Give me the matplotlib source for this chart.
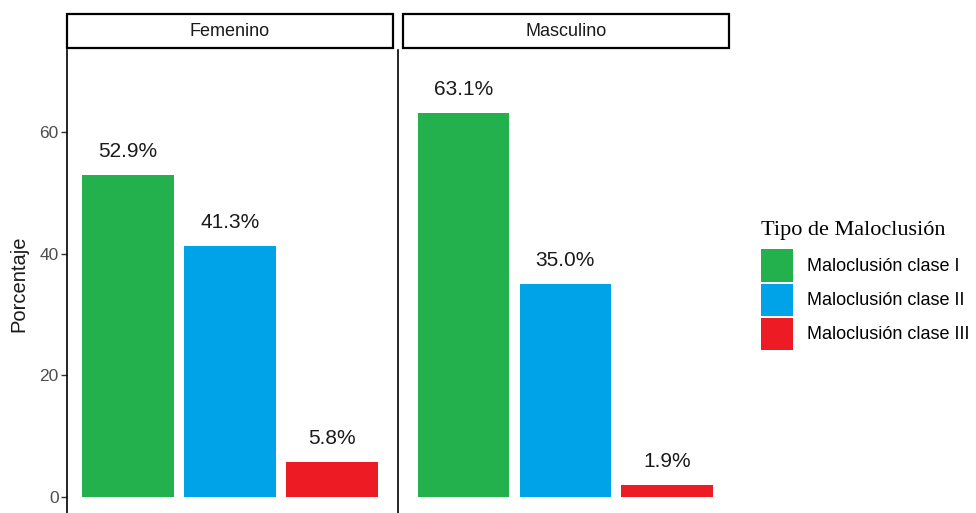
import matplotlib
matplotlib.use("Agg")
import matplotlib.pyplot as plt
from matplotlib.patches import Patch, Rectangle

# data
sexes = ["Femenino", "Masculino"]
classes = ["Maloclusión clase I", "Maloclusión clase II", "Maloclusión clase III"]
pct_femenino = [52.9, 41.3, 5.8]
pct_masculino = [63.1, 35.0, 1.9]
colors = ["#22B14C", "#00A2E8", "#ED1C24"]
y_ticks = [0, 20, 40, 60]

W, H = 976, 513
fig = plt.figure(figsize=(W / 100, H / 100), dpi=100)
plt.rcParams["font.family"] = ["Liberation Sans", "DejaVu Sans"]


def box(l, r, t, b):
    # pixel box -> figure fraction [left, bottom, width, height]
    return [l / W, (H - b) / H, (r - l) / W, (b - t) / H]


panels = [
    (box(67, 393, 50, 518.3), (0.4, 3.6), (67, 393), pct_femenino),
    (box(398, 729, 50, 518.3), (0.357, 3.605), (403, 729), pct_masculino),
]

axes = []
for i, (pos, xlim, strip_x, vals) in enumerate(panels):
    ax = fig.add_axes(pos)
    x = range(1, len(vals) + 1)
    ax.bar(x, vals, width=0.9, color=colors)
    for xi, v in zip(x, vals):
        ax.annotate(f"{v:.1f}%", (xi, v), xytext=(0, 17), textcoords="offset points",
                    ha="center", va="center", fontsize=15, color="#1a1a1a")
    ax.set_xlim(*xlim)
    ax.set_ylim(-3.5, 73.5)
    ax.set_xticks([])
    for s in ["top", "right"]:
        ax.spines[s].set_visible(False)
    for s in ["left", "bottom"]:
        ax.spines[s].set_linewidth(1.2)
        ax.spines[s].set_color("black")
    if i == 0:
        ax.set_yticks(y_ticks)
        ax.tick_params(axis="y", length=4, width=1, color="#333333",
                       labelsize=12.5, labelcolor="#4D4D4D", pad=2)
        ax.set_ylabel("Porcentaje", fontsize=14.5, color="#1a1a1a", labelpad=8)
    else:
        ax.set_yticks([])
    axes.append(ax)

    # facet strip
    l, r = strip_x
    rect = Rectangle((l / W, (H - 48) / H), (r - l) / W, 34 / H,
                     transform=fig.transFigure, facecolor="white",
                     edgecolor="black", linewidth=1.6)
    fig.add_artist(rect)
    fig.text((l + r) / 2 / W, (H - 32) / H, sexes[i], ha="center", va="center",
             fontsize=13, color="#1a1a1a")

handles = [Patch(facecolor=c, edgecolor="none") for c in colors]
leg = fig.legend(handles, classes, loc="upper left",
                 bbox_to_anchor=(756 / W, (H - 216) / H),
                 frameon=False, fontsize=13,
                 handlelength=1.75, handleheight=2.36,
                 handletextpad=0.75, labelspacing=0.11,
                 borderaxespad=0, borderpad=0.3)
leg.set_title("Tipo de Maloclusión",
              prop={"family": "Liberation Serif", "size": 16})
leg._legend_box.align = "left"
leg._legend_box.sep = 6.5

fig.savefig("out.png", dpi=100)
